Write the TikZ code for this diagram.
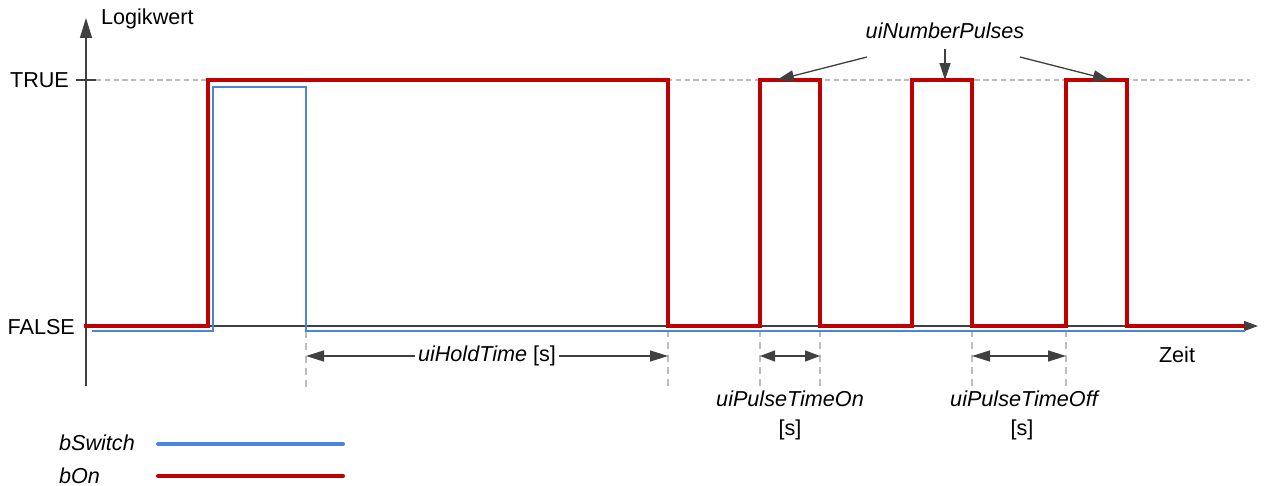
\documentclass[tikz,border=0pt]{standalone}
\usepackage{fontspec}
\setmainfont{Liberation Sans}
\usetikzlibrary{positioning,arrows.meta}
\usepackage{xcolor}
\definecolor{SignalRed}{HTML}{C00000}
\definecolor{SignalBlue}{HTML}{4A86D8}
\definecolor{AxisGray}{HTML}{404040}
\definecolor{GuideGray}{HTML}{BDBDBD}

\begin{document}
\begin{tikzpicture}[
        x=0.02cm, y=-0.02cm,
        lbl/.style={font=\fontsize{12.3}{14}\selectfont, text=black, inner sep=1pt},
        ilbl/.style={lbl, font=\fontsize{12.3}{14}\selectfont\itshape},
        axis/.style={draw=AxisGray, line width=0.75pt},
        guide/.style={draw=GuideGray, dash pattern=on 4pt off 3pt, line width=0.6pt},
        dim/.style={draw=AxisGray, line width=0.75pt, {Triangle[length=0.36cm,width=0.22cm]}-{Triangle[length=0.36cm,width=0.22cm]}},
        pointer/.style={draw=AxisGray, line width=0.75pt, -{Triangle[length=0.34cm,width=0.22cm]}},
        bon/.style={draw=SignalRed, line width=2.4pt, line join=miter},
        bswitch/.style={draw=SignalBlue, line width=1.1pt, line join=miter}
    ]
        \useasboundingbox (0,0) rectangle (1268,486);

        % axes
        \coordinate (origin) at (86,326);
        \coordinate (ytop) at (86,18);
        \coordinate (ybot) at (86,386);
        \coordinate (xend) at (1258,326);
        \draw [guide, dash pattern=on 3pt off 2pt] (96,80) -- (1250,80);
        \draw [axis] (ybot) -- (origin);
        \draw [axis, -{Triangle[length=0.4cm,width=0.24cm]}] (origin) -- (ytop);
        \draw [axis, -{Triangle[length=0.28cm,width=0.2cm]}] (origin) -- (xend);
        \draw [axis] (76,80) -- (96,80);

        \node [lbl, anchor=west] (logik) at (99,19) {Logikwert};
        \node [lbl, anchor=east] (true) at (71,80) {TRUE};
        \node [lbl, anchor=east] (false) at (77,327) {FALSE};
        \node [lbl] (zeit) at (1177,355) {Zeit};

        % guides
        \foreach \gx/\gt in {306/331, 668/330, 760/330, 820/330, 972/330, 1066/330}
            \draw [guide] (\gx,\gt) -- (\gx,388);

        % signals
        \draw [bswitch] (92,331) -- (213,331) -- (213,87) -- (306,87) -- (306,331) -- (1245,331);
        \draw [bon] (84,326) -- (208,326) -- (208,80) -- (668,80) -- (668,326)
            -- (760,326) -- (760,80) -- (820,80) -- (820,326)
            -- (912,326) -- (912,80) -- (972,80) -- (972,326)
            -- (1066,326) -- (1066,80) -- (1127,80) -- (1127,326) -- (1245,326);

        % timing
        \coordinate (holdA) at (306,356);
        \coordinate (holdB) at (668,356);
        \draw [dim] (holdA) -- (holdB);
        \node [lbl, fill=white, inner xsep=2pt] (hold) at (487,356) {\textit{uiHoldTime} [s]};

        \coordinate (onA) at (760,356);
        \coordinate (onB) at (820,356);
        \draw [dim, {Triangle[length=0.3cm,width=0.22cm]}-{Triangle[length=0.3cm,width=0.22cm]}] (onA) -- (onB);
        \node [ilbl] (on) at (790,399) {uiPulseTimeOn};
        \node [lbl] (onunit) at (790,430) {[s]};

        \coordinate (offA) at (972,356);
        \coordinate (offB) at (1066,356);
        \draw [dim] (offA) -- (offB);
        \node [ilbl] (off) at (1024,399) {uiPulseTimeOff};
        \node [lbl] (offunit) at (1022,430) {[s]};

        % pulses
        \node [ilbl] (pulses) at (945,31) {uiNumberPulses};
        \coordinate (p1) at (867,57);
        \coordinate (p2) at (945,49);
        \coordinate (p3) at (1020,57);
        \coordinate (t1) at (777,80);
        \coordinate (t2) at (945,80);
        \coordinate (t3) at (1110,80);
        \draw [pointer] (p1) -- (t1);
        \draw [pointer] (p2) -- (t2);
        \draw [pointer] (p3) -- (t3);

        % legend
        \node [ilbl, anchor=west] (legswitch) at (57,443) {bSwitch};
        \node [ilbl, anchor=west] (legon) at (57,476) {bOn};
        \coordinate (sw1) at (158,444);
        \coordinate (sw2) at (343,444);
        \coordinate (on1) at (158,476);
        \coordinate (on2) at (343,476);
        \draw [draw=SignalBlue, line width=2.3pt, line cap=round] (sw1) -- (sw2);
        \draw [draw=SignalRed, line width=2.3pt, line cap=round] (on1) -- (on2);
    \end{tikzpicture}
\end{document}
